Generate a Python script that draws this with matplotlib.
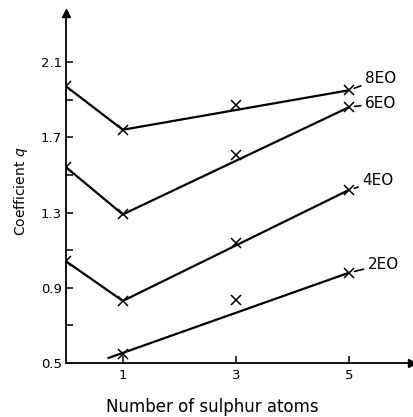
import matplotlib
matplotlib.use('Agg')
import matplotlib.pyplot as plt
from matplotlib.ticker import FixedLocator

# measured points (x = number of sulphur atoms)
x_pts = [0, 1, 3, 5]
q_8eo = [1.97, 1.74, 1.87, 1.95]
q_6eo = [1.54, 1.29, 1.605, 1.86]
q_4eo = [1.04, 0.83, 1.14, 1.42]
x_2eo = [1, 3, 5]
q_2eo = [0.55, 0.835, 0.98]

# drawn lines: a kink at x=1, then a straight line to x=5
line_x = [0, 1, 5]
line_8eo = [1.97, 1.74, 1.95]
line_6eo = [1.54, 1.29, 1.86]
line_4eo = [1.04, 0.83, 1.42]
line_2eo_x = [0.73, 5]
line_2eo = [0.525, 0.98]

y_major = [0.5, 0.9, 1.3, 1.7, 2.1]
y_minor = [0.7, 1.1, 1.5, 1.9]
x_ticks = [1, 3, 5]

series = [
    ('8EO', x_pts, q_8eo, line_x, line_8eo, (11.5, 8.5)),
    ('6EO', x_pts, q_6eo, line_x, line_6eo, (11.5, 3.0)),
    ('4EO', x_pts, q_4eo, line_x, line_4eo, (9.5, 6.5)),
    ('2EO', x_2eo, q_2eo, line_2eo_x, line_2eo, (13.5, 6.0)),
]

plt.rcParams['font.family'] = 'DejaVu Sans'
fig = plt.figure(figsize=(4.14, 4.17), dpi=100)
ax = fig.add_axes([0.160, 0.1295, 0.836, 0.839])

for name, xs, qs, lx, ly, off in series:
    ax.plot(lx, ly, color='black', lw=1.6, solid_capstyle='butt')
    ax.plot(xs, qs, linestyle='none', marker='x', ms=7, mew=1.1, color='black')
    ax.annotate(name, xy=(xs[-1], qs[-1]), xytext=off, textcoords='offset points',
                fontsize=11, va='center', ha='left',
                arrowprops=dict(arrowstyle='-', lw=1.2, color='black', shrinkA=1, shrinkB=4))

ax.set_xlim(0, 6.12)
ax.set_ylim(0.5, 2.36)
ax.spines['top'].set_visible(False)
ax.spines['right'].set_visible(False)
for s in ('left', 'bottom'):
    ax.spines[s].set_linewidth(1.3)

# arrow heads on the axes
ax.plot(1, 0, '>', color='black', ms=6, transform=ax.transAxes, clip_on=False)
ax.plot(0, 1, '^', color='black', ms=6, transform=ax.transAxes, clip_on=False)

ax.set_xticks(x_ticks)
ax.set_yticks(y_major)
ax.set_yticklabels([f'{v:.1f}' for v in y_major])
ax.yaxis.set_minor_locator(FixedLocator(y_minor))
ax.tick_params(direction='in', length=5, width=1.1, labelsize=9.5, pad=4)
ax.tick_params(which='minor', direction='in', length=5, width=1.1)
ax.tick_params(axis='y', which='both', pad=3)

ax.set_xlabel('Number of sulphur atoms', fontsize=12, va='center')
ax.xaxis.set_label_coords(0.422, -0.126)
ax.set_ylabel('Coefficient $q$', fontsize=10, va='center')
ax.yaxis.set_label_coords(-0.13, 0.49)

plt.savefig('out.png', dpi=100)
